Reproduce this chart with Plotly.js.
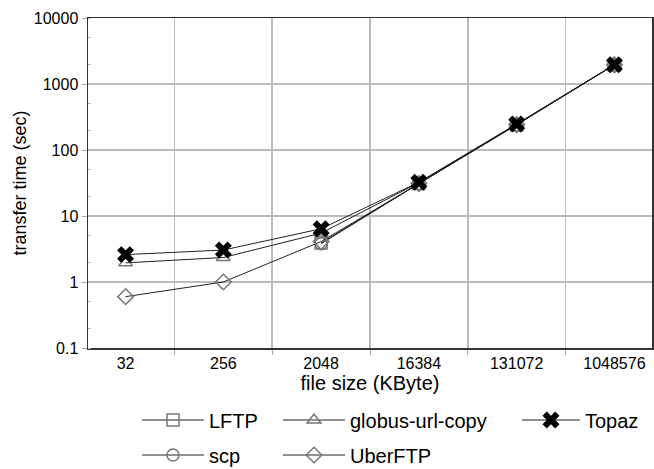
<!DOCTYPE html>
<html>
<head>
<meta charset="utf-8">
<script src="https://cdn.plot.ly/plotly-3.0.1.min.js"></script>
<style>html,body{margin:0;padding:0;background:#fff}#chart{width:654px;height:469px}</style>
</head>
<body>
<div id="chart"></div>
<script>
const fileSizes = ['32', '256', '2048', '16384', '131072', '1048576'];
const lftp = [null, null, 3.9, 31, 240, 1950];
const globus = [1.95, 2.35, 5.5, 32, 245, 1960];
const topaz = [2.6, 3.05, 6.4, 32.5, 248, 1960];
const scp = [null, null, 3.8, 31, 240, 1950];
const uberftp = [0.6, 1.0, 4.1, 31, 242, 1950];
const yTickVals = [0.1, 1, 10, 100, 1000, 10000];
const yTickText = ['0.1', '1', '10', '100', '1000', '10000'];

const grey = '#777';
const lineC = '#222';
function tr(name, y, symbol, legend, extra) {
  return Object.assign({
    x: fileSizes, y: y, name: name, type: 'scatter', mode: 'lines+markers',
    line: {color: lineC, width: 1},
    marker: {symbol: symbol, size: 12, color: grey, line: {color: grey, width: 1.5}},
    legend: legend, connectgaps: true
  }, extra || {});
}
const data = [
  tr('LFTP', lftp, 'square-open', 'legend'),
  tr('globus-url-copy', globus, 'triangle-up-open', 'legend2'),
  tr('scp', scp, 'circle-open', 'legend4'),
  tr('UberFTP', uberftp, 'diamond-open', 'legend5'),
  tr('Topaz', topaz, 'x', 'legend3', {marker: {symbol: 'x', size: 15, color: '#000', line: {color: '#000', width: 0}}})
];
const font = {family: 'Liberation Sans, Arial, sans-serif', size: 16, color: '#000'};
function lg(x, y, w) {
  return {xref: 'container', yref: 'container', x: x / 654, y: 1 - y / 469, xanchor: 'left', yanchor: 'middle',
    orientation: 'h', itemwidth: w, font: {size: 20}, bgcolor: 'rgba(0,0,0,0)'};
}
const layout = {
  width: 654, height: 469,
  margin: {l: 88, r: 2, t: 18, b: 121},
  font: font,
  paper_bgcolor: '#fff', plot_bgcolor: '#fff',
  xaxis: {
    type: 'category', categoryorder: 'array', categoryarray: fileSizes,
    tickson: 'boundaries', ticks: 'outside', ticklen: 5, tickcolor: '#aaa',
    showgrid: true, gridcolor: '#bbb', gridwidth: 1.5,
    showline: true, linecolor: '#333', linewidth: 1.5, mirror: true,
    tickfont: {size: 16}, zeroline: false,
    title: {text: 'file size (KByte)', font: {size: 20}, standoff: 1}
  },
  yaxis: {
    type: 'log', range: [-1, 4], tickvals: yTickVals, ticktext: yTickText,
    ticks: 'outside', ticklen: 5, tickcolor: '#aaa',
    minor: {ticks: 'inside', ticklen: 3, tickcolor: '#bbb', showgrid: false},
    showgrid: true, gridcolor: '#bbb', gridwidth: 1.5,
    showline: true, linecolor: '#333', linewidth: 1.5, mirror: true,
    tickfont: {size: 16}, zeroline: false,
    title: {text: 'transfer time (sec)', font: {size: 18}, standoff: 2}
  },
  showlegend: true,
  legend: lg(137, 420, 62),
  legend2: lg(278, 420, 62),
  legend3: lg(517, 420, 58),
  legend4: lg(137, 455, 62),
  legend5: lg(278, 455, 62)
};
Plotly.newPlot('chart', data, layout, {displayModeBar: false, staticPlot: true});
</script>
</body>
</html>
